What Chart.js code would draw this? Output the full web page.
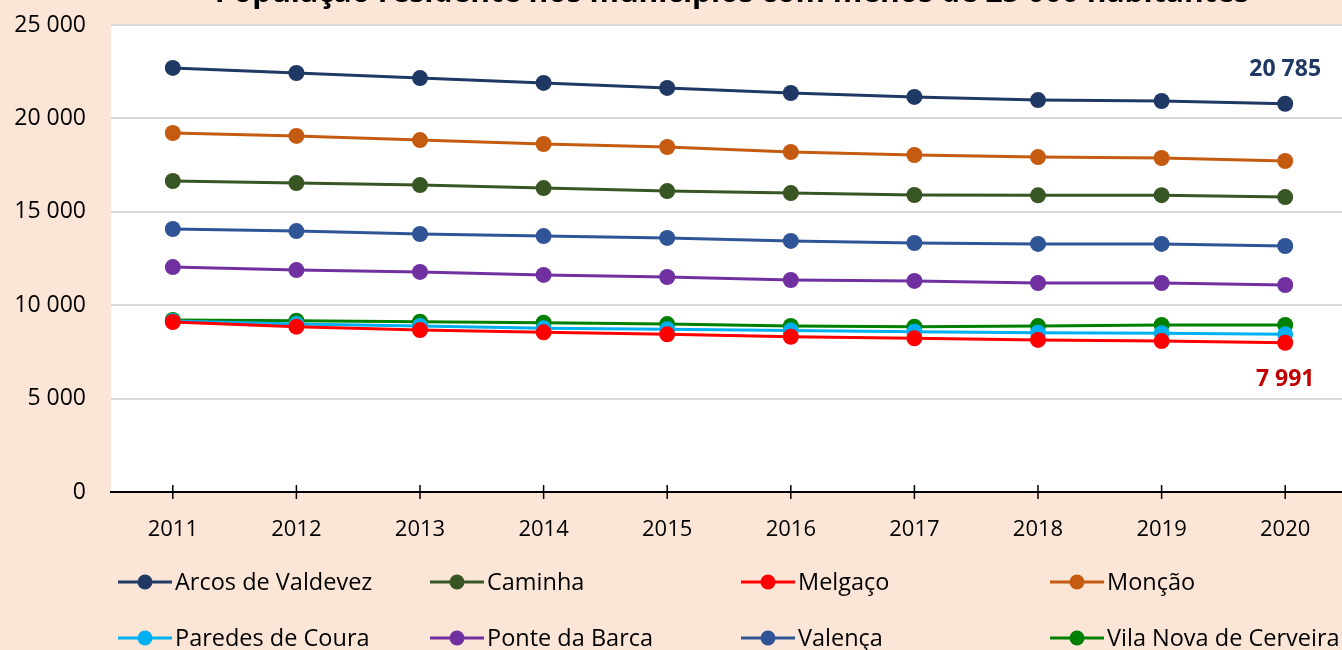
<!DOCTYPE html>
<html>
<head>
<meta charset="utf-8">
<script src="https://cdn.jsdelivr.net/npm/chart.js@4"></script>
<style>
  body { margin: 0; overflow: hidden; background: #FBE5D6; }
  #wrap { width: 1355px; height: 650px; }
</style>
</head>
<body>
<div id="wrap"><canvas id="chart" width="1355" height="650"></canvas></div>
<script>
// anos e população residente por município
const years = ["2011", "2012", "2013", "2014", "2015", "2016", "2017", "2018", "2019", "2020"];
const municipios = ["Arcos de Valdevez", "Caminha", "Melgaço", "Monção", "Paredes de Coura", "Ponte da Barca", "Valença", "Vila Nova de Cerveira"];
const arcos = [22700, 22430, 22160, 21900, 21630, 21360, 21150, 20980, 20930, 20785];
const caminha = [16650, 16540, 16430, 16270, 16110, 16000, 15900, 15880, 15890, 15790];
const melgaco = [9100, 8850, 8670, 8550, 8440, 8310, 8230, 8140, 8080, 7991];
const moncao = [19220, 19060, 18840, 18630, 18470, 18200, 18040, 17930, 17880, 17720];
const paredes = [9150, 8990, 8890, 8760, 8710, 8650, 8580, 8530, 8500, 8440];
const ponte = [12040, 11880, 11780, 11620, 11510, 11350, 11300, 11190, 11190, 11080];
const valenca = [14080, 13970, 13810, 13700, 13600, 13440, 13330, 13280, 13280, 13170];
const cerveira = [9210, 9170, 9120, 9060, 8990, 8890, 8850, 8880, 8940, 8940];
const yTicks = [0, 5000, 10000, 15000, 20000, 25000];
const cores = ["#1F3864", "#375623", "#FF0000", "#C55A11", "#00B0F0", "#7030A0", "#2F5597", "#008000"];
const titulo = "População residente nos municípios com menos de 25 000 habitantes";

const series = [arcos, caminha, melgaco, moncao, paredes, ponte, valenca, cerveira];
const fonte = "'Open Sans', sans-serif";

function fmt(v) {
  return String(v).replace(/\B(?=(\d{3})+(?!\d))/g, " ");
}

const fundo = {
  id: "fundo",
  beforeDraw(chart) {
    const { ctx, chartArea: a } = chart;
    ctx.save();
    ctx.fillStyle = "#FBE5D6";
    ctx.fillRect(0, 0, chart.width, chart.height);
    ctx.fillStyle = "#FFFFFF";
    ctx.fillRect(a.left, a.top, a.right - a.left, a.bottom - a.top);
    ctx.restore();
  },
};

const extras = {
  id: "extras",
  afterDraw(chart) {
    const { ctx, chartArea: a } = chart;
    const x = chart.scales.x;
    ctx.save();
    // marcas do eixo x
    ctx.strokeStyle = "#000";
    ctx.lineWidth = 1.5;
    years.forEach((_, i) => {
      const px = x.getPixelForValue(i);
      ctx.beginPath();
      ctx.moveTo(px, a.bottom - 7);
      ctx.lineTo(px, a.bottom + 7);
      ctx.stroke();
    });
    // título (quase todo fora da imagem)
    ctx.fillStyle = "#000";
    ctx.font = "bold 30px " + fonte;
    ctx.textAlign = "center";
    ctx.textBaseline = "alphabetic";
    ctx.fillText(titulo, 732, 2);
    // rótulos do último valor
    ctx.font = "bold 23px " + fonte;
    const pA = chart.getDatasetMeta(0).data[years.length - 1];
    ctx.fillStyle = "#1F3864";
    ctx.textBaseline = "middle";
    ctx.fillText(fmt(arcos[arcos.length - 1]), pA.x, pA.y - 34);
    const pM = chart.getDatasetMeta(2).data[years.length - 1];
    ctx.fillStyle = "#C00000";
    ctx.fillText(fmt(melgaco[melgaco.length - 1]), pM.x, pM.y + 37);
    // legenda em grelha
    const colX = [145, 457, 768, 1077];
    const rowY = [582, 638];
    ctx.font = "23.5px " + fonte;
    ctx.textAlign = "left";
    municipios.forEach((m, i) => {
      const cx = colX[i % 4];
      const cy = rowY[Math.floor(i / 4)];
      ctx.strokeStyle = cores[i];
      ctx.lineWidth = 3;
      ctx.beginPath();
      ctx.moveTo(cx - 27, cy);
      ctx.lineTo(cx + 27, cy);
      ctx.stroke();
      ctx.fillStyle = cores[i];
      ctx.beginPath();
      ctx.arc(cx, cy, 7.5, 0, Math.PI * 2);
      ctx.fill();
      ctx.fillStyle = "#000";
      ctx.fillText(m, cx + 30, cy + 1);
    });
    ctx.restore();
  },
};

new Chart(document.getElementById("chart"), {
  type: "line",
  data: {
    labels: years,
    datasets: municipios.map((m, i) => ({
      label: m,
      data: series[i],
      borderColor: cores[i],
      backgroundColor: cores[i],
      borderWidth: 3,
      pointRadius: 8,
      pointHoverRadius: 8,
      pointBorderWidth: 0,
      tension: 0,
    })),
  },
  options: {
    responsive: false,
    animation: false,
    layout: { padding: { top: 25, right: 0, bottom: 0, left: 0 } },
    plugins: {
      legend: { display: false },
      title: { display: false },
      tooltip: { enabled: false },
    },
    scales: {
      x: {
        offset: true,
        grid: { display: false },
        border: { display: true, color: "#000", width: 2 },
        ticks: { color: "#000", padding: 17, font: { family: fonte, size: 22 } },
        afterFit(s) { s.height = 158; },
      },
      y: {
        min: 0,
        max: 25000,
        afterBuildTicks(s) { s.ticks = yTicks.map((v) => ({ value: v })); },
        grid: { color: "#D9D9D9", lineWidth: 2, drawTicks: false },
        border: { display: false },
        ticks: {
          color: "#000",
          padding: 25,
          font: { family: fonte, size: 23 },
          callback: (v) => fmt(v),
        },
        afterFit(s) {
          s.width = 111;
          s.paddingTop = 0;
          s.paddingBottom = 0;
        },
      },
    },
  },
  plugins: [fundo, extras],
});
</script>
</body>
</html>
